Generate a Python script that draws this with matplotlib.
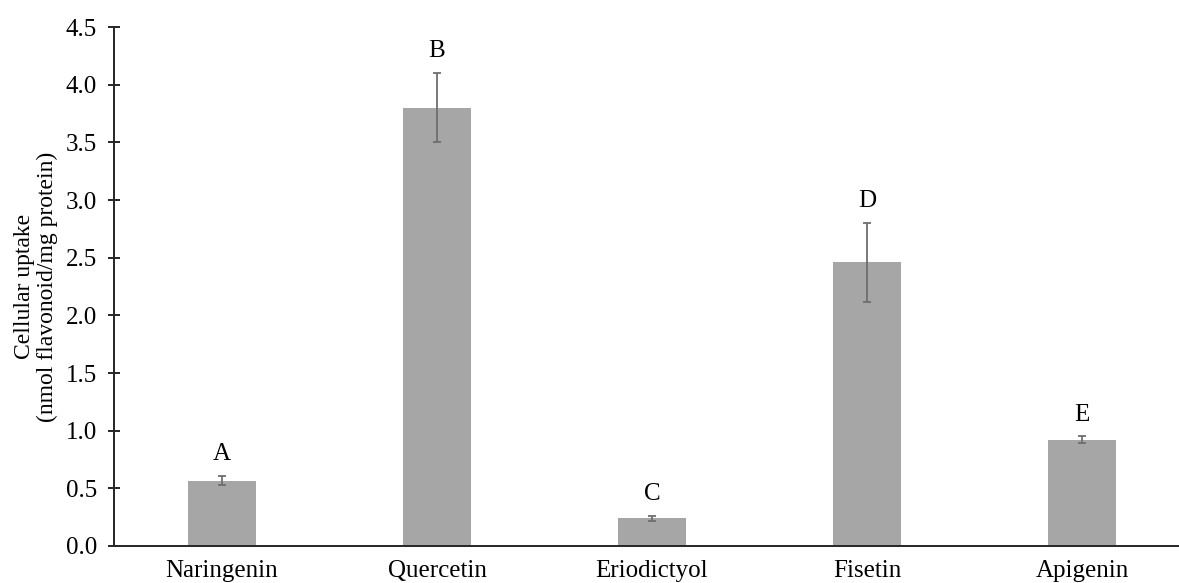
import numpy as np
import matplotlib
matplotlib.use("Agg")
from matplotlib import pyplot as plt

plt.rcParams['font.family'] = ['Liberation Serif', 'DejaVu Serif']

# uptake per flavonoid (nmol flavonoid / mg protein)
compounds = ["Naringenin", "Quercetin", "Eriodictyol", "Fisetin", "Apigenin"]
uptake = [0.565, 3.80, 0.24, 2.46, 0.92]
uptake_err = [0.04, 0.30, 0.02, 0.34, 0.03]
letters = ["A", "B", "C", "D", "E"]

fig = plt.figure(figsize=(11.79, 5.83), dpi=100)
ax = fig.add_axes([0.0971, 0.0635, 0.9118, 0.890])

x = np.arange(len(compounds))
ax.bar(x, uptake, width=0.316, color="#a6a6a6", zorder=2)
ax.errorbar(x, uptake, yerr=uptake_err, fmt="none", ecolor="#6e6e6e",
            elinewidth=1.3, capsize=3, capthick=1.3, zorder=3)

for xi, v, e, lab in zip(x, uptake, uptake_err, letters):
    ax.text(xi, v + e + 0.19, lab, ha="center", va="center", fontsize=18)

ax.set_xlim(-0.5, 4.5)
ax.set_ylim(0, 4.5)
ax.set_yticks(np.arange(0, 4.51, 0.5))
ax.set_yticklabels([f"{t:.1f}" for t in np.arange(0, 4.51, 0.5)])
ax.set_xticks(x)
ax.set_xticklabels(compounds)

for s in ["top", "right"]:
    ax.spines[s].set_visible(False)
for s in ["left", "bottom"]:
    ax.spines[s].set_linewidth(1.4)
    ax.spines[s].set_color("#262626")

ax.tick_params(axis="y", direction="inout", length=9, width=1.4,
               color="#262626", labelsize=18, pad=8)
ax.tick_params(axis="x", length=0, labelsize=18, pad=10)
ax.set_ylabel("Cellular uptake\n(nmol flavonoid/mg protein)", fontsize=17,
              linespacing=1.1, labelpad=6)

fig.savefig("out.png", dpi=100)
